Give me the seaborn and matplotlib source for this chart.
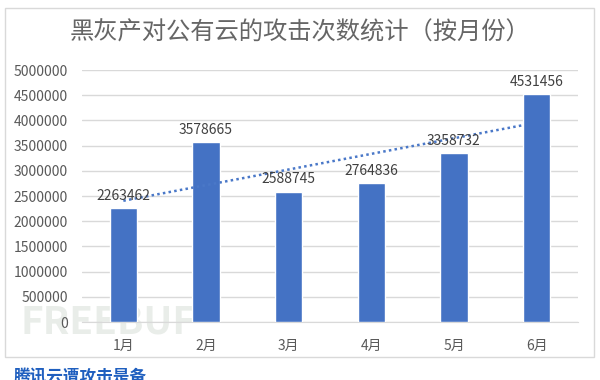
import numpy as np
import pandas as pd
import matplotlib
matplotlib.use('Agg')
import matplotlib.pyplot as plt
from matplotlib.patches import Rectangle
import seaborn as sns

months = ['1月', '2月', '3月', '4月', '5月', '6月']
attacks = [2263462, 3578665, 2588745, 2764836, 3358732, 4531456]
y_ticks = [0, 500000, 1000000, 1500000, 2000000, 2500000, 3000000,
           3500000, 4000000, 4500000, 5000000]

sns.set_style('white')
plt.rcParams['font.family'] = ['Noto Sans CJK SC', 'DejaVu Sans']

df = pd.DataFrame({'month': months, 'attacks': attacks})

fig = plt.figure(figsize=(6, 3.8), dpi=100)
fig.patch.set_facecolor('white')

# chart frame
fig.patches.append(Rectangle((5 / 600, 1 - 357 / 380), 589 / 600, 349 / 380,
                             transform=fig.transFigure, fill=False,
                             edgecolor='#d9d9d9', linewidth=1, zorder=0))

ax = fig.add_axes([82 / 600, 1 - 322 / 380, 496 / 600, 252 / 380])
ax.set_facecolor('none')

sns.barplot(data=df, x='month', y='attacks', color='#4472C4', width=0.33,
            saturation=1, ax=ax, zorder=3)

# linear trend line
xs = np.arange(len(attacks))
k, b = np.polyfit(xs, attacks, 1)
ax.plot([0, 4.85], [b, k * 4.85 + b], linestyle=(0, (1, 1.3)), color='#4a78c8',
        linewidth=1.8, zorder=4)

for i, v in enumerate(attacks):
    ax.text(i, v + 100000, str(v), ha='center', va='bottom', fontsize=10,
            color='#404040', zorder=5, clip_on=False)

ax.set_ylim(0, 5000000)
ax.set_xlim(-0.5, 5.5)
ax.set_yticks(y_ticks)
ax.set_yticklabels([str(t) for t in y_ticks])
ax.yaxis.grid(True, color='#d9d9d9', linewidth=1)
ax.set_axisbelow(True)
ax.tick_params(axis='y', length=0, labelsize=10, labelcolor='#595959', pad=10)
ax.set_xticks(np.arange(-0.5, 6, 1), minor=False)
ax.set_xticklabels([])
ax.set_xticks(range(6), minor=True)
ax.set_xticklabels(months, minor=True)
ax.tick_params(axis='x', which='major', length=4, color='#d9d9d9', direction='out')
ax.tick_params(axis='x', which='minor', length=0, labelsize=10,
               labelcolor='#595959', pad=12)
ax.set_xlabel('')
ax.set_ylabel('')
for s in ['top', 'right', 'left']:
    ax.spines[s].set_visible(False)
ax.spines['bottom'].set_color('#d9d9d9')

fig.text(0.5, 1 - 33 / 380, '黑灰产对公有云的攻击次数统计（按月份）', ha='center',
         va='center', fontsize=17.5, color='#666666')

# watermark
fig.text(20 / 600, 1 - 322 / 380, 'FREEBUF', ha='left', va='center',
         fontsize=28, fontweight='bold', color='#e9ede9', zorder=-1)

# cut-off caption link below chart
fig.text(14 / 600, 1 - 368 / 380, '腾讯云遭攻击是备', ha='left', va='top',
         fontsize=12, color='#1f5fbf', fontweight='bold')

fig.savefig('out.png', dpi=100, facecolor='white')
